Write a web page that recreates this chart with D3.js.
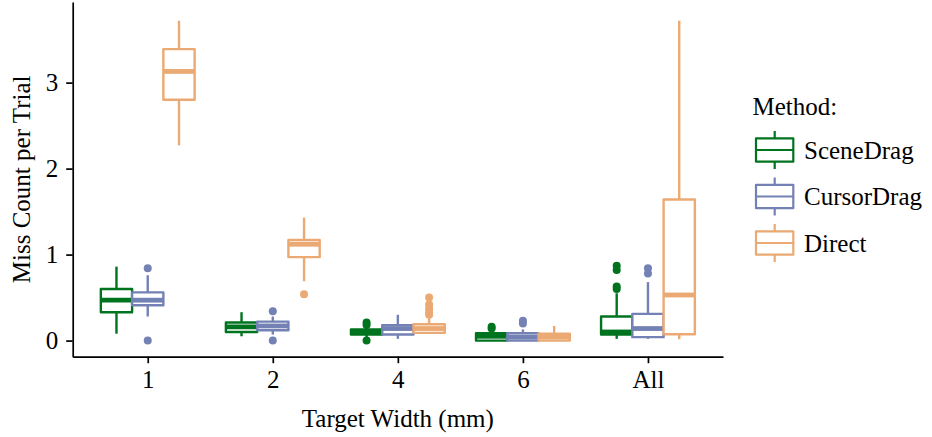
<!DOCTYPE html>
<meta charset="utf-8">
<script src="https://d3js.org/d3.v7.min.js"></script>
<style>
  body { margin: 0; background: #fff; }
  text { font-family: "Liberation Serif", "Times New Roman", serif; fill: #000; }
</style>
<div id="chart"></div>
<script>
  // categories and series
  var widths = ["1", "2", "4", "6", "All"];
  var methods = ["SceneDrag", "CursorDrag", "Direct"];
  var colors = ["#00731f", "#7481b5", "#ebaa73"];

  // box stats per width: [lower whisker, q1, median, q3, upper whisker]
  var sceneDragStats = [
    [0.08, 0.33, 0.47, 0.60, 0.86],
    [0.05, 0.10, 0.16, 0.21, 0.33],
    [0.04, 0.07, 0.10, 0.13, 0.16],
    [0.00, 0.00, 0.05, 0.086, 0.10],
    [0.02, 0.07, 0.10, 0.28, 0.55]
  ];
  var cursorDragStats = [
    [0.28, 0.41, 0.47, 0.56, 0.76],
    [0.07, 0.12, 0.17, 0.22, 0.28],
    [0.02, 0.07, 0.14, 0.18, 0.30],
    [0.00, 0.00, 0.04, 0.086, 0.13],
    [0.02, 0.04, 0.14, 0.31, 0.68]
  ];
  var directStats = [
    [2.27, 2.80, 3.13, 3.39, 3.72],
    [0.69, 0.97, 1.12, 1.17, 1.43],
    [0.09, 0.09, 0.14, 0.19, 0.26],
    [0.00, 0.00, 0.04, 0.08, 0.17],
    [0.016, 0.074, 0.53, 1.64, 3.72]
  ];

  // outliers per width
  var sceneDragOut = [[], [], [0.21, 0.18, 0.0], [0.16, 0.14], [0.87, 0.82, 0.63, 0.60]];
  var cursorDragOut = [[0.84, 0.0], [0.34, 0.0], [], [0.23, 0.20], [0.84, 0.78]];
  var directOut = [[], [0.54], [0.50, 0.42, 0.37, 0.33, 0.30], [], []];

  var yTicks = [0, 1, 2, 3];

  var allStats = [sceneDragStats, cursorDragStats, directStats];
  var allOut = [sceneDragOut, cursorDragOut, directOut];

  var W = 932, H = 437;
  var svg = d3.select("#chart").append("svg")
    .attr("width", W).attr("height", H);

  var x = d3.scalePoint()
    .domain(widths)
    .range([72.7, 723])
    .padding(0.6);
  var step = x.step();

  var dodge = d3.scaleBand()
    .domain(methods)
    .range([-0.375 * step, 0.375 * step]);
  var bw = dodge.bandwidth();

  var y = d3.scaleLinear()
    .domain([-0.1875, 3.9375])
    .range([356.7, 2]);

  var lw = 2.4;

  // boxes
  methods.forEach(function (m, mi) {
    var g = svg.append("g").attr("class", "method");
    var col = colors[mi];
    var stats = allStats[mi];
    var outs = allOut[mi];

    widths.forEach(function (w, i) {
      var s = stats[i];
      var x0 = x(w) + dodge(m);
      var cx = x0 + bw / 2;

      // outliers
      g.selectAll(null)
        .data(outs[i])
        .enter()
        .append("circle")
          .attr("cx", cx)
          .attr("cy", function (d) { return y(d); })
          .attr("r", 4)
          .style("fill", col);

      // whiskers
      g.append("line")
        .attr("x1", cx).attr("x2", cx)
        .attr("y1", y(s[3])).attr("y2", y(s[4]))
        .style("stroke", col).style("stroke-width", lw);
      g.append("line")
        .attr("x1", cx).attr("x2", cx)
        .attr("y1", y(s[1])).attr("y2", y(s[0]))
        .style("stroke", col).style("stroke-width", lw);

      // box
      g.append("rect")
        .attr("x", x0)
        .attr("y", y(s[3]))
        .attr("width", bw)
        .attr("height", Math.max(0.01, y(s[1]) - y(s[3])))
        .style("fill", "#fff")
        .style("stroke", col)
        .style("stroke-width", lw)
        .style("stroke-linejoin", "round");

      // median
      g.append("line")
        .attr("x1", x0).attr("x2", x0 + bw)
        .attr("y1", y(s[2])).attr("y2", y(s[2]))
        .style("stroke", col).style("stroke-width", lw * 2);
    });
  });

  // axes
  var xAxis = svg.append("g")
    .attr("transform", "translate(0," + 356.7 + ")")
    .call(d3.axisBottom(x).tickSize(6.5).tickSizeOuter(0).tickPadding(7));
  var yAxis = svg.append("g")
    .attr("transform", "translate(" + 72.7 + ",0)")
    .call(d3.axisLeft(y).tickValues(yTicks).tickFormat(d3.format("d"))
      .tickSize(6.5).tickSizeOuter(0).tickPadding(8));

  [xAxis, yAxis].forEach(function (a) {
    a.selectAll("path, line").style("stroke", "#000").style("stroke-width", 1.7);
    a.selectAll("text")
      .style("font-family", "'Liberation Serif', serif")
      .style("font-size", "25px")
      .style("fill", "#000");
  });

  // axis titles
  svg.append("text")
    .attr("x", (72.7 + 723) / 2)
    .attr("y", 427)
    .attr("text-anchor", "middle")
    .style("font-size", "25px")
    .text("Target Width (mm)");

  svg.append("text")
    .attr("transform", "translate(29.5," + (2 + 356.7) / 2 + ") rotate(-90)")
    .attr("text-anchor", "middle")
    .style("font-size", "25px")
    .text("Miss Count per Trial");

  // legend
  var legend = svg.append("g");
  legend.append("text")
    .attr("x", 752.5)
    .attr("y", 115)
    .style("font-size", "25px")
    .text("Method:");

  methods.forEach(function (m, mi) {
    var cy = 150 + mi * 46.5;
    var col = colors[mi];
    var k = legend.append("g");
    k.append("line")
      .attr("x1", 774.7).attr("x2", 774.7)
      .attr("y1", cy - 19).attr("y2", cy + 19)
      .style("stroke", col).style("stroke-width", 2.2);
    k.append("rect")
      .attr("x", 756).attr("y", cy - 11.7)
      .attr("width", 37.3).attr("height", 23.4)
      .style("fill", "#fff")
      .style("stroke", col).style("stroke-width", 2.2)
      .style("stroke-linejoin", "round");
    k.append("line")
      .attr("x1", 756).attr("x2", 793.3)
      .attr("y1", cy).attr("y2", cy)
      .style("stroke", col).style("stroke-width", 2.2);
    legend.append("text")
      .attr("x", 804)
      .attr("y", cy)
      .attr("dy", "0.35em")
      .style("font-size", "25px")
      .text(m);
  });
</script>
